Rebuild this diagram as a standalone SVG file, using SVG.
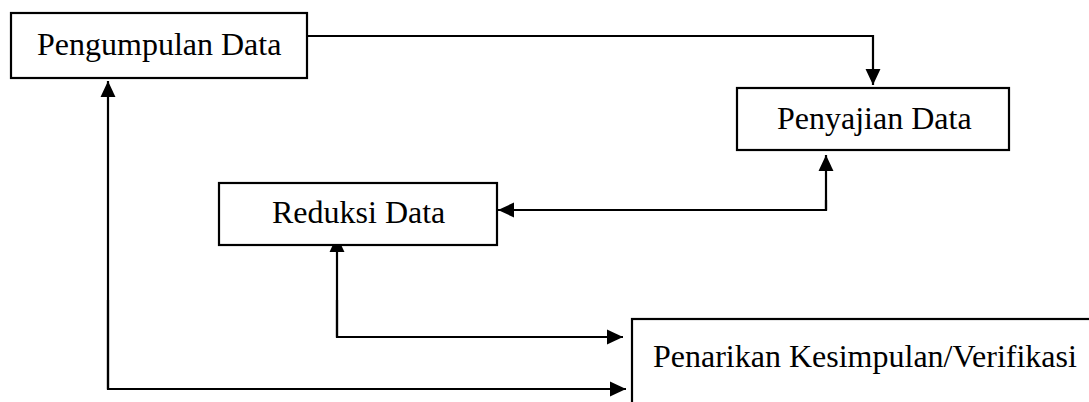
<svg xmlns="http://www.w3.org/2000/svg" width="1089" height="402" viewBox="0 0 1089 402">
<style>
.box{fill:#fff;stroke:#000;stroke-width:2.2}
.lbl{font-family:"Liberation Serif","Times New Roman",serif;font-size:32px;fill:#000}
.con{fill:none;stroke:#000;stroke-width:2.2}
</style>
<defs>
<marker id="ah" markerUnits="userSpaceOnUse" markerWidth="16" markerHeight="16" viewBox="0 0 15 14" refX="15" refY="7" orient="auto">
<path d="M0,0 L15,7 L0,14 Z" fill="#000"/>
</marker>
</defs>
<rect width="1089" height="402" fill="#fff"/>
<g id="connectors">
<polyline class="con" points="308,36 873,36 873,85" marker-end="url(#ah)"/>
<polyline class="con" points="826,210 826,155" marker-end="url(#ah)"/>
<polyline class="con" points="826,200 826,210 498,210" marker-end="url(#ah)"/>
<polyline class="con" points="337,337 337,236" marker-end="url(#ah)"/>
<polyline class="con" points="337,300 337,337 623,337" marker-end="url(#ah)"/>
<polyline class="con" points="108,389 108,81" marker-end="url(#ah)"/>
<polyline class="con" points="108,300 108,389 626,389" marker-end="url(#ah)"/>
</g>
<g id="node-pengumpulan">
<rect class="box" x="11" y="13" width="296" height="65"/>
<text class="lbl" x="37" y="55">Pengumpulan Data</text>
</g>
<g id="node-penyajian">
<rect class="box" x="737" y="88" width="272" height="62"/>
<text class="lbl" x="777" y="129">Penyajian Data</text>
</g>
<g id="node-reduksi">
<rect class="box" x="219" y="183" width="278" height="62"/>
<text class="lbl" x="272" y="223">Reduksi Data</text>
</g>
<g id="node-penarikan">
<rect class="box" x="632" y="319" width="470" height="100"/>
<text class="lbl" x="653" y="367">Penarikan Kesimpulan/Verifikasi</text>
</g>
</svg>
